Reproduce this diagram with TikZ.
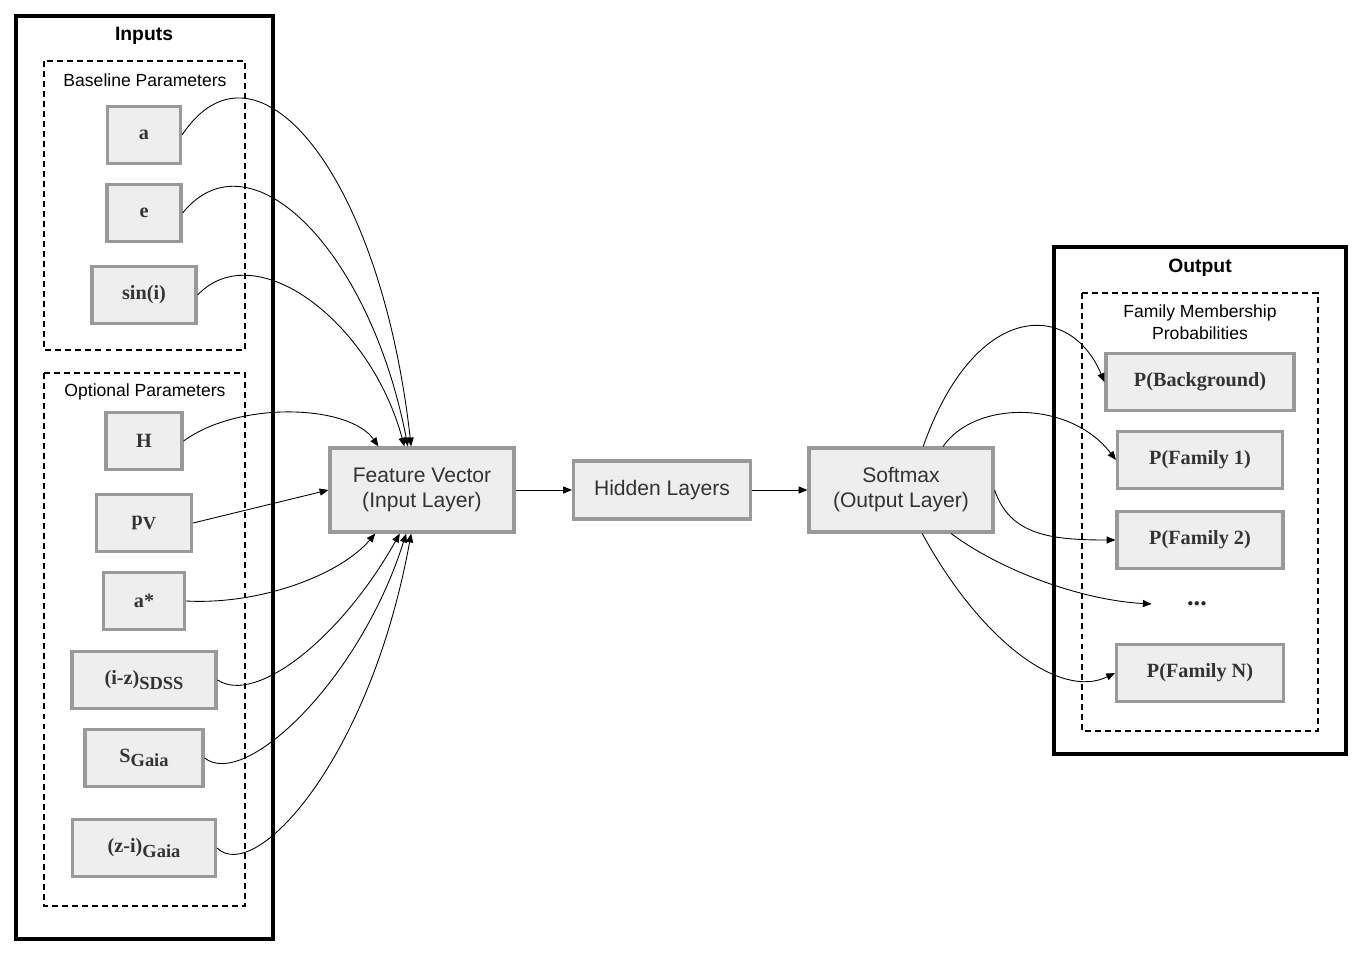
\documentclass[tikz,border=0pt]{standalone}
\usepackage{fontspec}
\setmainfont{Liberation Serif}
\setsansfont{Liberation Sans}
\usepackage{xcolor}
\usepackage{tikz}
\usetikzlibrary{arrows.meta,positioning}
\definecolor{boxfill}{HTML}{EEEEEE}
\definecolor{boxline}{HTML}{999999}
\definecolor{boxtext}{HTML}{333333}
\newcommand{\lowsub}[1]{\raisebox{-0.5ex}{\fontsize{10.5}{12}\selectfont #1}}
\tikzset{
  pbox/.style={draw=boxline, fill=boxfill, line width=1.8pt, align=center, inner sep=2pt, minimum height=1.14cm, text=boxtext, font=\fontsize{11.5}{14}\selectfont\bfseries},
  lbox/.style={draw=boxline, fill=boxfill, line width=1.8pt, align=center, inner sep=2pt, minimum width=3.68cm, text=boxtext, font=\sffamily\fontsize{12}{14.2}\selectfont},
  outerframe/.style={line width=2pt},
  dashgroup/.style={line width=1.1pt, dash pattern=on 3.4pt off 2.3pt},
  grouplabel/.style={font=\sffamily\fontsize{10}{12.5}\selectfont, align=center},
  grouptitle/.style={font=\sffamily\bfseries\fontsize{11}{13}\selectfont},
  flow/.style={-{Triangle[length=5pt,width=4pt]}, line width=0.5pt, draw=black},
}

\begin{document}
\begin{tikzpicture}[x=0.02cm, y=-0.02cm]
  \useasboundingbox (0,0) rectangle (1368,963);
  \draw[outerframe] (16,16) rectangle (273,939);
  \node[grouptitle] (intitle) at (144,36) {Inputs};
  \draw[dashgroup] (44,61) rectangle (245,350);
  \node[grouplabel] (basetitle) at (145,80) {Baseline Parameters};
  \draw[dashgroup] (44,373) rectangle (245,906);
  \node[grouplabel] (opttitle) at (145,392) {Optional Parameters};
  \node[pbox, minimum width=1.46cm] (a)     at (144,135) {a};
  \node[pbox, minimum width=1.48cm] (e)     at (144,213) {e};
  \node[pbox, minimum width=2.08cm] (sini)  at (144,295) {sin(i)};
  \node[pbox, minimum width=1.52cm] (h)     at (144,441) {H};
  \node[pbox, minimum width=1.90cm] (pv)    at (144,523) {p\lowsub{V}};
  \node[pbox, minimum width=1.62cm] (astar) at (144,601) {a*};
  \node[pbox, minimum width=2.88cm] (iz)    at (144,680) {(i-z)\lowsub{SDSS}};
  \node[pbox, minimum width=2.36cm] (sg)    at (144,758) {S\lowsub{Gaia}};
  \node[pbox, minimum width=2.86cm] (zi)    at (144,848) {(z-i)\lowsub{Gaia}};
  \node[lbox, minimum height=1.68cm] (fv) at (422,490) {Feature Vector\\(Input Layer)};
  \node[lbox, minimum width=3.54cm, minimum height=1.16cm] (hl) at (662,490) {Hidden Layers};
  \node[lbox, minimum height=1.68cm] (sm) at (901,490) {Softmax\\(Output Layer)};
  \draw[outerframe] (1054,247) rectangle (1346,754);
  \node[grouptitle] (outtitle) at (1200,268) {Output};
  \draw[dashgroup] (1082,293) rectangle (1318,731);
  \node[grouplabel] (probtitle) at (1200,322) {Family Membership\\Probabilities};
  \node[pbox, minimum width=3.76cm] (bg) at (1200,382) {P(Background)};
  \node[pbox, minimum width=3.30cm] (f1) at (1200,460) {P(Family 1)};
  \node[pbox, minimum width=3.32cm] (f2) at (1200,540) {P(Family 2)};
  \node[font=\fontsize{15}{16}\selectfont\bfseries, text=black!85, minimum width=1.8cm, inner sep=0pt] (dots) at (1197,604) {...};
  \node[pbox, minimum width=3.34cm] (fn) at (1200,673) {P(Family N)};
  \draw[flow] (a.east) .. controls (255,25) and (380,170) .. (fv.104);
  \draw[flow] (e.east) .. controls (250,130) and (370,250) .. (fv.108);
  \draw[flow] (sini.east) .. controls (255,235) and (370,320) .. (fv.112);
  \draw[flow] (h.east) .. controls (240,400) and (350,405) .. (fv.135);
  \draw[flow] (pv.east) -- (fv.west);
  \draw[flow] (astar.east) .. controls (260,605) and (340,575) .. (fv.223);
  \draw[flow] (iz.east) .. controls (255,705) and (340,640) .. (fv.243);
  \draw[flow] (sg.east) .. controls (245,790) and (360,680) .. (fv.250);
  \draw[flow] (zi.east) .. controls (255,885) and (370,760) .. (fv.256);
  \draw[flow] (fv.east) -- (hl.west);
  \draw[flow] (hl.east) -- (sm.west);
  \draw[flow] (sm.63) .. controls (975,300) and (1070,300) .. (bg.west);
  \draw[flow] (sm.46) .. controls (975,400) and (1070,400) .. (f1.west);
  \draw[flow] (sm.east) .. controls (1010,535) and (1050,540) .. (f2.west);
  \draw[flow] (sm.-41) .. controls (1000,570) and (1080,600) .. (dots.west);
  \draw[flow] (sm.-64) .. controls (980,640) and (1060,700) .. (fn.west);
\end{tikzpicture}
\end{document}
